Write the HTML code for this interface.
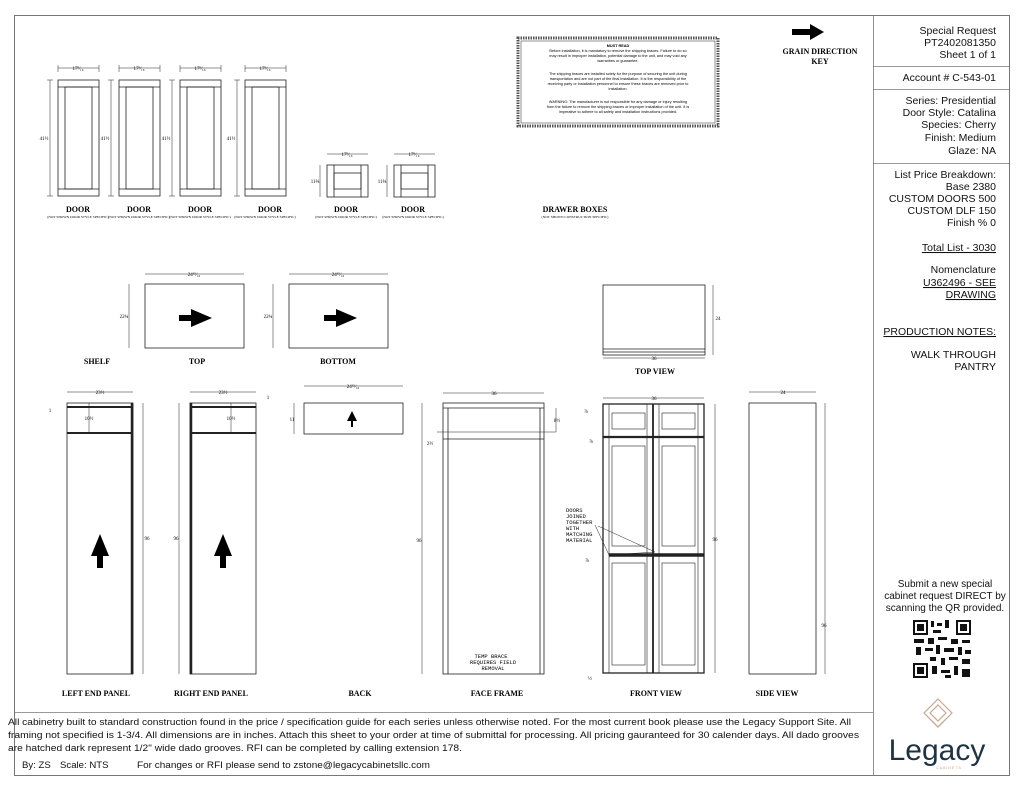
<!DOCTYPE html>
<html><head><meta charset="utf-8"><style>
html,body{margin:0;padding:0;background:#fff}
svg{display:block}
.t{font-family:"Liberation Serif",serif;font-weight:bold;font-size:8px;text-anchor:middle}
.s{font-family:"Liberation Serif",serif;font-size:3.5px;text-anchor:middle}
.d{font-family:"Liberation Serif",serif;font-size:5px;text-anchor:middle}
.r{font-family:"Liberation Sans",sans-serif;font-size:10.5px;text-anchor:end;fill:#111}
.f{font-family:"Liberation Sans Narrow","Liberation Sans",sans-serif;font-size:9.6px;fill:#111}
.m{font-family:"Liberation Sans",sans-serif;font-size:3.8px;text-anchor:middle}
.mono{font-family:"Liberation Mono",monospace;font-size:5.5px;text-anchor:middle}
</style></head><body>
<svg width="1024" height="791" viewBox="0 0 1024 791" xmlns="http://www.w3.org/2000/svg">
<g fill="none" stroke="#222" stroke-width="0.8">
<rect x="14.5" y="15.5" width="995" height="760" stroke="#777" stroke-width="1"/>
<line x1="873.5" y1="15" x2="873.5" y2="775" stroke="#777"/>
<line x1="14" y1="712.5" x2="873" y2="712.5" stroke="#777"/>
<line x1="873" y1="66.5" x2="1010" y2="66.5" stroke="#777"/>
<line x1="873" y1="89.5" x2="1010" y2="89.5" stroke="#777"/>
<line x1="873" y1="163.5" x2="1010" y2="163.5" stroke="#777"/>

<g id="door">
<rect x="58" y="80" width="41" height="116"/>
<rect x="65" y="87" width="27" height="102"/>
<line x1="58" y1="87" x2="99" y2="87"/><line x1="58" y1="189" x2="99" y2="189"/>
<line x1="58" y1="68" x2="99" y2="68" stroke-width="0.5"/><line x1="58" y1="65" x2="58" y2="72" stroke-width="0.5"/><line x1="99" y1="65" x2="99" y2="72" stroke-width="0.5"/>
<line x1="50" y1="80" x2="50" y2="196" stroke-width="0.5"/><line x1="47" y1="80" x2="53" y2="80" stroke-width="0.5"/><line x1="47" y1="196" x2="53" y2="196" stroke-width="0.5"/>
</g>
<use href="#door" x="61"/><use href="#door" x="122"/><use href="#door" x="187"/>
<g id="dr">
<rect x="327" y="165" width="41" height="32"/>
<rect x="334" y="173" width="27" height="16"/>
<line x1="334" y1="165" x2="334" y2="197"/><line x1="361" y1="165" x2="361" y2="197"/>
<line x1="327" y1="154" x2="368" y2="154" stroke-width="0.5"/>
<line x1="320" y1="165" x2="320" y2="197" stroke-width="0.5"/>
</g>
<use href="#dr" x="67"/>

<rect x="518" y="38" width="200" height="88" stroke-width="3" stroke="#555" stroke-dasharray="1.5 1"/>
<rect x="521" y="41" width="194" height="82" stroke-width="0.5"/>

<rect x="145" y="284" width="99" height="64"/>
<rect x="289" y="284" width="99" height="64"/>
<line x1="145" y1="274" x2="244" y2="274" stroke-width="0.5"/>
<line x1="289" y1="274" x2="388" y2="274" stroke-width="0.5"/>
<line x1="129" y1="284" x2="129" y2="348" stroke-width="0.5"/>
<line x1="273" y1="284" x2="273" y2="348" stroke-width="0.5"/>
<rect x="603" y="285" width="102" height="70"/>
<line x1="603" y1="349" x2="705" y2="349"/><line x1="603" y1="352" x2="705" y2="352"/>
<line x1="603" y1="358" x2="705" y2="358" stroke-width="0.5"/>
<line x1="713" y1="285" x2="713" y2="355" stroke-width="0.5"/>

<rect x="67" y="403" width="66" height="271"/>
<line x1="132" y1="403" x2="132" y2="674" stroke-width="2.5"/>
<line x1="67" y1="407" x2="133" y2="407" stroke-width="2"/>
<line x1="67" y1="433" x2="133" y2="433" stroke-width="2"/>
<line x1="89" y1="403" x2="89" y2="433" stroke-width="0.5"/>
<line x1="67" y1="392" x2="133" y2="392" stroke-width="0.5"/>
<line x1="143" y1="403" x2="143" y2="674" stroke-width="0.5"/>
<rect x="190" y="403" width="66" height="271"/>
<line x1="191" y1="403" x2="191" y2="674" stroke-width="2.5"/>
<line x1="190" y1="407" x2="256" y2="407" stroke-width="2"/>
<line x1="190" y1="433" x2="256" y2="433" stroke-width="2"/>
<line x1="231" y1="403" x2="231" y2="433" stroke-width="0.5"/>
<line x1="190" y1="392" x2="256" y2="392" stroke-width="0.5"/>
<line x1="179" y1="403" x2="179" y2="674" stroke-width="0.5"/>
<rect x="304" y="403" width="99" height="31"/>
<line x1="304" y1="386" x2="403" y2="386" stroke-width="0.5"/>
<line x1="294" y1="403" x2="294" y2="434" stroke-width="0.5"/>

<rect x="443" y="403" width="101" height="271"/>
<line x1="448" y1="408" x2="448" y2="674"/><line x1="540" y1="408" x2="540" y2="674"/>
<line x1="443" y1="408" x2="544" y2="408"/><line x1="443" y1="439" x2="544" y2="439"/>
<line x1="443" y1="393" x2="544" y2="393" stroke-width="0.5"/>
<line x1="422" y1="403" x2="422" y2="674" stroke-width="0.5"/>
<line x1="437" y1="432" x2="556" y2="432" stroke-width="0.5"/>
<line x1="556" y1="408" x2="556" y2="432" stroke-width="0.5"/>

<rect x="603" y="404" width="101" height="269" stroke-width="1.3"/>
<line x1="653" y1="404" x2="653" y2="673" stroke-width="1.8"/>
<line x1="603" y1="437" x2="704" y2="437" stroke-width="2.2"/>
<line x1="609" y1="555" x2="704" y2="555" stroke-width="3.5"/>
<g stroke-width="0.6">
<rect x="612" y="413" width="33" height="16"/><rect x="662" y="413" width="33" height="16"/>
<rect x="612" y="446" width="33" height="100"/><rect x="662" y="446" width="33" height="100"/>
<rect x="612" y="563" width="33" height="102"/><rect x="662" y="563" width="33" height="102"/>
<line x1="609" y1="404" x2="609" y2="673"/><line x1="698" y1="404" x2="698" y2="673"/>
<line x1="647" y1="404" x2="647" y2="673"/><line x1="659" y1="404" x2="659" y2="673"/>
</g>
<line x1="603" y1="398" x2="704" y2="398" stroke-width="0.5"/>
<line x1="715" y1="404" x2="715" y2="673" stroke-width="0.5"/>
<polyline points="595,525 609,555 655,552 598,526" stroke-width="0.5"/>
<rect x="749" y="403" width="67" height="271"/>
<line x1="749" y1="392" x2="816" y2="392" stroke-width="0.5"/>
<line x1="825" y1="403" x2="825" y2="674" stroke-width="0.5"/>
</g>

<g fill="#000">
<path d="M792,29h18v-5l14,8-14,8v-5h-18z"/>
<path d="M179,315h12v-6l21,9-21,9v-6h-12z"/>
<path d="M324,315h12v-6l21,9-21,9v-6h-12z"/>
<path d="M97,568v-12h-6l9,-22 9,22h-6v12z"/>
<path d="M220,568v-12h-6l9,-22 9,22h-6v12z"/>
<path d="M351,427v-6h-4l5,-10 5,10h-4v6z"/>
</g>

<g class="d">
<text x="78" y="70">17⁹⁄₁₆</text><text x="139" y="70">17⁹⁄₁₆</text><text x="200" y="70">17⁹⁄₁₆</text><text x="265" y="70">17⁹⁄₁₆</text>
<text x="44" y="140">41½</text><text x="105" y="140">41½</text><text x="166" y="140">41½</text><text x="231" y="140">41½</text>
<text x="347" y="156">17⁹⁄₁₆</text><text x="414" y="156">17⁹⁄₁₆</text><text x="315" y="183">11⅝</text><text x="382" y="183">11⅝</text>
<text x="194" y="276">24¹⁵⁄₁₆</text><text x="338" y="276">24¹⁵⁄₁₆</text><text x="124" y="318">22¾</text><text x="268" y="318">22¾</text>
<text x="654" y="360">36</text><text x="718" y="320">24</text>
<text x="100" y="394">23½</text><text x="223" y="394">23½</text><text x="89" y="420">10½</text><text x="231" y="420">10½</text>
<text x="147" y="540">96</text><text x="176" y="540">96</text><text x="50" y="412">1</text><text x="268" y="399">1</text>
<text x="353" y="388">24¹⁵⁄₁₆</text><text x="292" y="421">11</text>
<text x="494" y="395">36</text><text x="419" y="542">96</text><text x="557" y="422">8½</text><text x="430" y="445">2½</text>
<text x="654" y="400">36</text><text x="715" y="541">96</text><text x="586" y="413">⅞</text><text x="591" y="443">⅞</text><text x="587" y="562">⅞</text><text x="590" y="680">½</text>
<text x="783" y="394">24</text><text x="824" y="627">96</text>
</g>

<g class="t">
<text x="78" y="212">DOOR</text><text x="139" y="212">DOOR</text><text x="200" y="212">DOOR</text><text x="270" y="212">DOOR</text>
<text x="346" y="212">DOOR</text><text x="413" y="212">DOOR</text><text x="575" y="212">DRAWER BOXES</text>
<text x="97" y="364">SHELF</text><text x="197" y="364">TOP</text><text x="338" y="364">BOTTOM</text><text x="655" y="374">TOP VIEW</text>
<text x="96" y="696">LEFT END PANEL</text><text x="211" y="696">RIGHT END PANEL</text><text x="360" y="696">BACK</text>
<text x="497" y="696">FACE FRAME</text><text x="656" y="696">FRONT VIEW</text><text x="777" y="696">SIDE VIEW</text>
<text x="820" y="54">GRAIN DIRECTION</text><text x="820" y="64">KEY</text>
</g>
<g class="s">
<text x="78" y="218">(NOT SHOWN DOOR STYLE SPECIFIC)</text><text x="139" y="218">(NOT SHOWN DOOR STYLE SPECIFIC)</text>
<text x="200" y="218">(NOT SHOWN DOOR STYLE SPECIFIC)</text><text x="265" y="218">(NOT SHOWN DOOR STYLE SPECIFIC)</text>
<text x="346" y="218">(NOT SHOWN DOOR STYLE SPECIFIC)</text><text x="413" y="218">(NOT SHOWN DOOR STYLE SPECIFIC)</text>
<text x="575" y="218">(NOT SHOWN CONSTRUCTION SPECIFIC)</text>
</g>

<g class="m">
<text x="618" y="47" font-weight="bold">MUST READ</text>
<text x="618" y="52">Before installation, it is mandatory to remove the shipping braces. Failure to do so</text>
<text x="618" y="57">may result in improper installation, potential damage to the unit, and may void any</text>
<text x="618" y="62">warranties or guarantee.</text>
<text x="618" y="75">The shipping braces are installed solely for the purpose of securing the unit during</text>
<text x="618" y="80">transportation and are not part of the final installation. It is the responsibility of the</text>
<text x="618" y="85">receiving party or installation personnel to ensure these braces are removed prior to</text>
<text x="618" y="90">installation.</text>
<text x="618" y="103">WARNING: The manufacturer is not responsible for any damage or injury resulting</text>
<text x="618" y="108">from the failure to remove the shipping braces or improper installation of the unit. It is</text>
<text x="618" y="113">imperative to adhere to all safety and installation instructions provided.</text>
</g>

<g class="mono">
<text x="491" y="658">TEMP BRACE</text><text x="493" y="664">REQUIRES FIELD</text><text x="493" y="670">REMOVAL</text>
</g>
<g font-family="Liberation Mono,monospace" font-size="5.5">
<text x="566" y="512">DOORS</text><text x="566" y="518">JOINED</text><text x="566" y="524">TOGETHER</text>
<text x="566" y="530">WITH</text><text x="566" y="536">MATCHING</text><text x="566" y="542">MATERIAL</text>
</g>

<g class="r">
<text x="996" y="34">Special Request</text><text x="996" y="46">PT2402081350</text><text x="996" y="58">Sheet 1 of 1</text>
<text x="996" y="81">Account # C-543-01</text>
<text x="996" y="104">Series: Presidential</text><text x="996" y="116">Door Style: Catalina</text><text x="996" y="128">Species: Cherry</text><text x="996" y="141">Finish: Medium</text><text x="996" y="154">Glaze: NA</text>
<text x="996" y="178">List Price Breakdown:</text><text x="996" y="190">Base 2380</text><text x="996" y="202">CUSTOM DOORS 500</text><text x="996" y="214">CUSTOM DLF 150</text><text x="996" y="226">Finish % 0</text>
<text x="996" y="251" text-decoration="underline">Total List - 3030</text>
<text x="996" y="273">Nomenclature</text><text x="996" y="286" text-decoration="underline">U362496 - SEE</text><text x="996" y="298" text-decoration="underline">DRAWING</text>
<text x="996" y="335" text-decoration="underline">PRODUCTION NOTES:</text>
<text x="996" y="358">WALK THROUGH</text><text x="996" y="370">PANTRY</text>
</g>
<g class="r" style="text-anchor:middle;font-size:10px">
<text x="945" y="587">Submit a new special</text><text x="945" y="599">cabinet request DIRECT by</text><text x="945" y="611">scanning the QR provided.</text>
</g>
<g>
<rect x="912" y="619" width="60" height="60" fill="#fff"/>
<g fill="#111">
<rect x="913" y="620" width="15" height="15"/><rect x="956" y="620" width="15" height="15"/><rect x="913" y="663" width="15" height="15"/>
</g>
<g fill="#fff"><rect x="915" y="622" width="11" height="11"/><rect x="958" y="622" width="11" height="11"/><rect x="915" y="665" width="11" height="11"/></g>
<g fill="#111"><rect x="917" y="624" width="7" height="7"/><rect x="960" y="624" width="7" height="7"/><rect x="917" y="667" width="7" height="7"/>
<rect x="931" y="621" width="3" height="6"/><rect x="937" y="623" width="5" height="3"/><rect x="945" y="620" width="4" height="8"/><rect x="933" y="630" width="8" height="3"/>
<rect x="914" y="639" width="10" height="4"/><rect x="928" y="638" width="6" height="6"/><rect x="938" y="637" width="9" height="3"/><rect x="951" y="639" width="7" height="5"/><rect x="962" y="640" width="8" height="3"/>
<rect x="916" y="647" width="5" height="8"/><rect x="925" y="648" width="8" height="3"/><rect x="936" y="645" width="4" height="9"/><rect x="944" y="648" width="10" height="4"/><rect x="958" y="647" width="4" height="8"/><rect x="965" y="650" width="6" height="4"/>
<rect x="930" y="657" width="6" height="4"/><rect x="941" y="658" width="4" height="7"/><rect x="949" y="657" width="9" height="3"/><rect x="962" y="659" width="8" height="5"/>
<rect x="932" y="666" width="5" height="8"/><rect x="941" y="670" width="9" height="3"/><rect x="954" y="666" width="4" height="9"/><rect x="962" y="669" width="8" height="8"/><rect x="945" y="675" width="6" height="3"/>
</g>
</g>
<g fill="none" stroke="#c9a78e" stroke-width="1.2">
<path d="M938,699 l14,14 -14,14 -14,-14z"/><path d="M938,705 l8,8 -8,8 -8,-8z"/>
<path d="M931,720 l7,7 7,-7"/>
</g>
<text x="937" y="760" font-family="Liberation Sans,sans-serif" font-size="30" fill="#1e3443" text-anchor="middle">Legacy</text>
<text x="949" y="769" font-family="Liberation Sans,sans-serif" font-size="3.5" fill="#c9a78e" text-anchor="middle" letter-spacing="1">CABINETS</text>

<g class="f">
<text x="8" y="725" textLength="843" lengthAdjust="spacingAndGlyphs">All cabinetry built to standard construction found in the price / specification guide for each series unless otherwise noted. For the most current book please use the Legacy Support Site. All</text>
<text x="8" y="738" textLength="851" lengthAdjust="spacingAndGlyphs">framing not specified is 1-3/4. All dimensions are in inches. Attach this sheet to your order at time of submittal for processing. All pricing gauranteed for 30 calender days. All dado grooves</text>
<text x="8" y="751" textLength="454" lengthAdjust="spacingAndGlyphs">are hatched dark represent 1/2" wide dado grooves. RFI can be completed by calling extension 178.</text>
<text x="22" y="768">By: ZS</text>
<text x="60" y="768">Scale: NTS</text>
<text x="137" y="768" textLength="293" lengthAdjust="spacingAndGlyphs">For changes or RFI please send to zstone@legacycabinetsllc.com</text>
</g>
</svg>
</body></html>
